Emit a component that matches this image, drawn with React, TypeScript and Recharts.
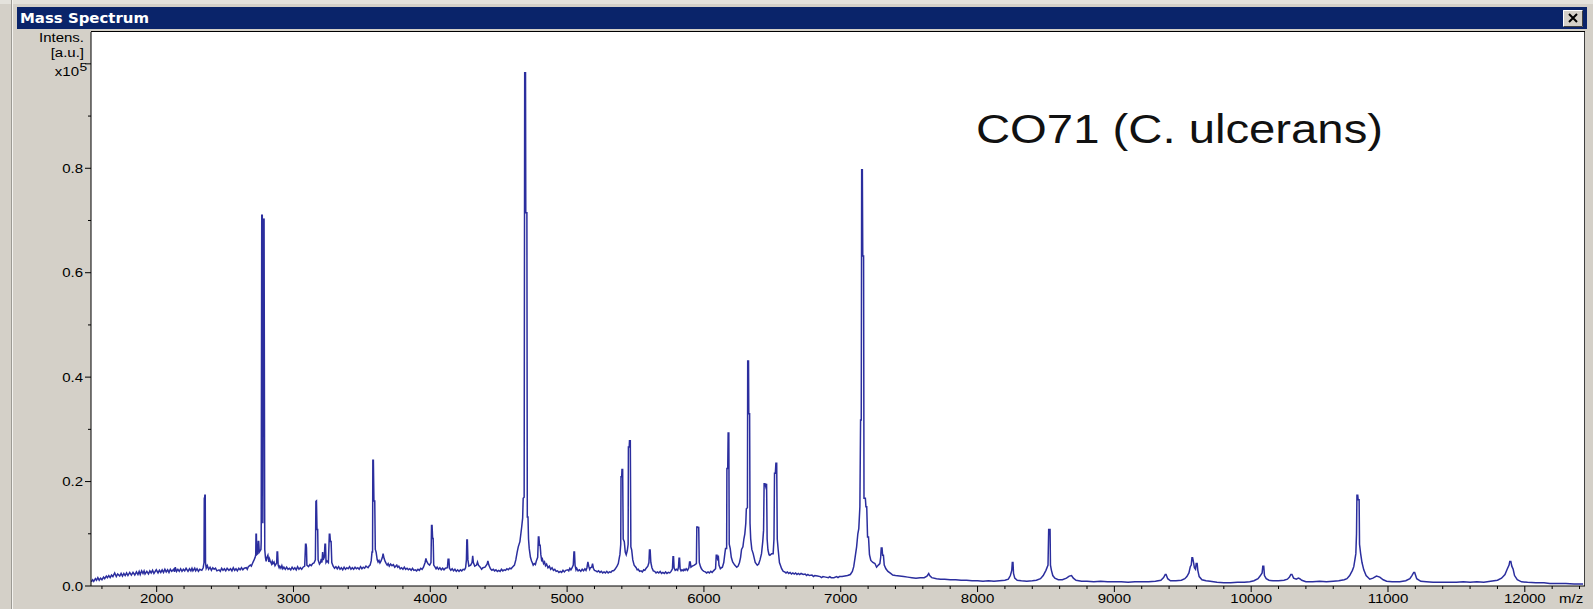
import React from 'react';
import { LineChart, Line, XAxis, YAxis } from 'recharts';

// ---- layout of the window ----
const W = 1593;
const H = 609;
const PLOT_LEFT = 91;
const PLOT_TOP = 32;
const PLOT_RIGHT = 1585;
const PLOT_BOTTOM = 586;

// ---- axes ----
const MZ_RANGE: [number, number] = [1520, 12440];
const INTENSITY_RANGE: [number, number] = [0, 1.061];

const majorMzTicks = [2000, 3000, 4000, 5000, 6000, 7000, 8000, 9000, 10000, 11000, 12000];
const minorMzTicks = [
  1600, 1800, 2200, 2400, 2600, 2800, 3200, 3400, 3600, 3800, 4200, 4400, 4600, 4800,
  5200, 5400, 5600, 5800, 6200, 6400, 6600, 6800, 7200, 7400, 7600, 7800, 8200, 8400,
  8600, 8800, 9200, 9400, 9600, 9800, 10200, 10400, 10600, 10800, 11200, 11400, 11600,
  11800, 12200, 12400,
];
const intensityTicks = [0, 0.1, 0.2, 0.3, 0.4, 0.5, 0.6, 0.7, 0.8, 0.9, 1.0];
const labelledIntensityTicks = [0, 0.2, 0.4, 0.6, 0.8];

// ---- spectrum trace: [m/z, intensity (x10^5 a.u.)] ----
const lowMassTrace: [number, number][] = [
  [1522, 0.008], [1532, 0.012], [1540, 0.009], [1552, 0.014], [1560, 0.011], [1570, 0.016],
  [1580, 0.011], [1590, 0.015], [1600, 0.012], [1612, 0.017], [1620, 0.014], [1632, 0.019],
  [1640, 0.016], [1650, 0.020], [1660, 0.016], [1670, 0.021], [1680, 0.018], [1693, 0.025],
  [1705, 0.018], [1715, 0.023], [1730, 0.019], [1740, 0.024], [1750, 0.019], [1760, 0.024],
  [1770, 0.020], [1780, 0.025], [1790, 0.020], [1803, 0.026], [1815, 0.021], [1827, 0.026],
  [1840, 0.021], [1852, 0.027], [1863, 0.022], [1872, 0.028], [1880, 0.022], [1890, 0.029],
  [1900, 0.024], [1908, 0.029], [1915, 0.023], [1928, 0.028], [1940, 0.023], [1950, 0.029],
  [1960, 0.025], [1970, 0.030], [1980, 0.024], [1997, 0.031], [2010, 0.025], [2020, 0.030],
  [2030, 0.026], [2040, 0.031], [2050, 0.026], [2060, 0.032], [2070, 0.027], [2080, 0.031],
  [2090, 0.026], [2100, 0.032], [2110, 0.028], [2125, 0.032], [2130, 0.027], [2136, 0.036],
  [2145, 0.028], [2155, 0.032], [2165, 0.028], [2175, 0.033], [2185, 0.028], [2195, 0.032],
  [2205, 0.029], [2215, 0.034], [2229, 0.028], [2240, 0.033], [2250, 0.029], [2258, 0.034],
  [2265, 0.029], [2278, 0.034], [2285, 0.029], [2295, 0.033], [2305, 0.028], [2315, 0.032],
  [2330, 0.030], [2340, 0.035], [2346, 0.045], [2348, 0.168], [2351, 0.168], [2352, 0.174],
  [2355, 0.174], [2357, 0.045], [2362, 0.034], [2370, 0.039], [2380, 0.032], [2390, 0.036],
  [2400, 0.030], [2410, 0.035], [2420, 0.032], [2430, 0.034], [2440, 0.029], [2456, 0.031],
  [2465, 0.028], [2475, 0.034], [2485, 0.030], [2495, 0.033], [2505, 0.029], [2515, 0.034],
  [2528, 0.030], [2540, 0.033], [2550, 0.029], [2560, 0.035], [2570, 0.030], [2580, 0.033],
  [2590, 0.029], [2600, 0.034], [2610, 0.031], [2620, 0.035], [2630, 0.031], [2640, 0.034],
  [2655, 0.035], [2662, 0.032], [2670, 0.037], [2685, 0.040], [2692, 0.038], [2700, 0.043],
  [2712, 0.050], [2720, 0.055], [2724, 0.060], [2726, 0.099], [2729, 0.099], [2731, 0.060],
  [2738, 0.062], [2742, 0.085], [2746, 0.085], [2750, 0.065], [2762, 0.070], [2764, 0.085],
  [2768, 0.710], [2772, 0.710], [2776, 0.120], [2780, 0.700], [2785, 0.704], [2790, 0.070],
  [2795, 0.055], [2800, 0.047], [2805, 0.054], [2813, 0.059], [2820, 0.046], [2825, 0.052],
  [2830, 0.048], [2840, 0.042], [2845, 0.047], [2850, 0.043], [2858, 0.046], [2865, 0.039],
  [2877, 0.044], [2880, 0.065], [2884, 0.065], [2888, 0.040], [2895, 0.035], [2900, 0.038],
  [2908, 0.034], [2915, 0.039], [2922, 0.033], [2930, 0.036], [2940, 0.032], [2950, 0.036],
  [2960, 0.032], [2970, 0.034], [2980, 0.031], [2990, 0.036],
];

const lowerMidTrace: [number, number][] = [
  [3000, 0.032], [3010, 0.035], [3020, 0.031], [3030, 0.037], [3040, 0.032], [3050, 0.035],
  [3060, 0.032], [3070, 0.036], [3082, 0.038], [3088, 0.080], [3092, 0.080], [3095, 0.073],
  [3098, 0.040], [3110, 0.037], [3120, 0.041], [3130, 0.039], [3140, 0.043], [3150, 0.044],
  [3160, 0.050], [3164, 0.162], [3168, 0.163], [3172, 0.108], [3177, 0.108], [3180, 0.050],
  [3190, 0.042], [3198, 0.045], [3203, 0.052], [3208, 0.045], [3213, 0.065], [3217, 0.050],
  [3225, 0.055], [3230, 0.080], [3234, 0.080], [3238, 0.045], [3245, 0.048], [3255, 0.045],
  [3262, 0.099], [3266, 0.099], [3270, 0.085], [3275, 0.085], [3280, 0.045], [3290, 0.038],
  [3300, 0.034], [3310, 0.037], [3320, 0.033], [3330, 0.037], [3340, 0.032], [3350, 0.035],
  [3360, 0.031], [3370, 0.036], [3380, 0.032], [3390, 0.035], [3400, 0.033], [3410, 0.037],
  [3420, 0.032], [3430, 0.035], [3440, 0.032], [3450, 0.036], [3460, 0.033], [3470, 0.035],
  [3480, 0.032], [3490, 0.037], [3500, 0.033], [3510, 0.036], [3520, 0.034], [3530, 0.038],
  [3545, 0.035], [3555, 0.039], [3560, 0.040], [3568, 0.048], [3574, 0.065], [3578, 0.065],
  [3580, 0.241], [3584, 0.241], [3588, 0.163], [3594, 0.163], [3598, 0.070], [3604, 0.065],
  [3612, 0.050], [3618, 0.046], [3625, 0.049], [3632, 0.044], [3640, 0.048], [3650, 0.055],
  [3655, 0.062], [3662, 0.053], [3670, 0.047], [3678, 0.043], [3685, 0.040], [3692, 0.043],
  [3700, 0.038], [3710, 0.042], [3720, 0.039], [3730, 0.041], [3740, 0.036], [3755, 0.040],
  [3762, 0.036], [3770, 0.038], [3780, 0.033], [3790, 0.035], [3800, 0.032], [3810, 0.036],
  [3820, 0.032], [3830, 0.034], [3840, 0.031], [3850, 0.033], [3860, 0.030], [3870, 0.034],
  [3880, 0.030], [3890, 0.031], [3900, 0.029], [3910, 0.032], [3920, 0.030], [3930, 0.034],
  [3940, 0.032], [3950, 0.036], [3962, 0.045], [3968, 0.053], [3974, 0.047], [3985, 0.042],
  [3995, 0.040], [4005, 0.045], [4009, 0.116], [4013, 0.116], [4017, 0.091], [4021, 0.091],
  [4025, 0.040], [4035, 0.036], [4042, 0.033], [4050, 0.036], [4060, 0.032], [4070, 0.035],
  [4080, 0.031], [4090, 0.034], [4100, 0.031], [4110, 0.034], [4125, 0.035], [4130, 0.051],
  [4136, 0.051], [4140, 0.034], [4150, 0.030], [4160, 0.033], [4170, 0.029], [4180, 0.032],
  [4190, 0.028], [4200, 0.031], [4210, 0.028], [4220, 0.031], [4230, 0.029], [4240, 0.032],
  [4250, 0.031], [4258, 0.035], [4264, 0.050], [4267, 0.088], [4271, 0.088], [4275, 0.050],
  [4282, 0.038], [4295, 0.040], [4305, 0.045], [4310, 0.058], [4315, 0.045], [4325, 0.038],
  [4338, 0.040], [4345, 0.046], [4352, 0.040], [4365, 0.036], [4375, 0.032], [4385, 0.035],
  [4400, 0.036], [4415, 0.042], [4421, 0.048], [4428, 0.040], [4440, 0.033], [4450, 0.030],
  [4460, 0.032], [4470, 0.029], [4480, 0.031], [4490, 0.028], [4500, 0.030], [4510, 0.028],
  [4520, 0.032], [4530, 0.029], [4540, 0.031], [4550, 0.030], [4560, 0.033], [4570, 0.031],
  [4580, 0.034], [4590, 0.033], [4600, 0.036], [4615, 0.040], [4625, 0.050], [4635, 0.065],
  [4643, 0.075], [4655, 0.085], [4668, 0.113], [4675, 0.130], [4679, 0.168], [4686, 0.170],
  [4690, 0.983], [4696, 0.983], [4698, 0.715], [4706, 0.715], [4709, 0.132], [4714, 0.132],
  [4718, 0.090], [4723, 0.072], [4732, 0.055], [4740, 0.048], [4745, 0.045], [4752, 0.040],
  [4760, 0.043], [4768, 0.041], [4775, 0.048], [4785, 0.055], [4790, 0.094], [4794, 0.094],
  [4798, 0.078], [4803, 0.078], [4808, 0.060], [4815, 0.047], [4820, 0.051], [4828, 0.043],
  [4835, 0.046], [4842, 0.039], [4850, 0.042], [4860, 0.035], [4870, 0.038], [4880, 0.032],
  [4890, 0.035], [4900, 0.030], [4910, 0.032], [4920, 0.028], [4930, 0.029], [4940, 0.026],
  [4950, 0.028], [4960, 0.026], [4970, 0.030], [4980, 0.027], [4990, 0.030],
];

const upperMidTrace: [number, number][] = [
  [5005, 0.031], [5012, 0.029], [5020, 0.034], [5028, 0.031], [5035, 0.034], [5045, 0.040],
  [5050, 0.065], [5054, 0.065], [5058, 0.040], [5065, 0.031], [5070, 0.034], [5080, 0.029],
  [5090, 0.031], [5100, 0.028], [5110, 0.032], [5120, 0.029], [5130, 0.033], [5138, 0.030],
  [5145, 0.035], [5152, 0.046], [5158, 0.038], [5165, 0.032], [5170, 0.035], [5180, 0.036],
  [5186, 0.043], [5192, 0.034], [5200, 0.030], [5210, 0.029], [5220, 0.027], [5230, 0.029],
  [5240, 0.026], [5250, 0.028], [5260, 0.025], [5270, 0.027], [5280, 0.025], [5290, 0.028],
  [5300, 0.025], [5310, 0.027], [5320, 0.026], [5330, 0.029], [5340, 0.029], [5350, 0.032],
  [5365, 0.038], [5374, 0.043], [5382, 0.055], [5386, 0.060], [5392, 0.080], [5394, 0.209],
  [5399, 0.209], [5401, 0.223], [5406, 0.223], [5410, 0.090], [5418, 0.085], [5425, 0.065],
  [5432, 0.060], [5440, 0.068], [5446, 0.080], [5448, 0.266], [5454, 0.266], [5456, 0.278],
  [5462, 0.278], [5466, 0.075], [5472, 0.069], [5480, 0.050], [5490, 0.040], [5505, 0.035],
  [5512, 0.031], [5520, 0.032], [5530, 0.028], [5540, 0.029], [5550, 0.027], [5560, 0.031],
  [5568, 0.030], [5575, 0.033], [5590, 0.038], [5598, 0.045], [5602, 0.069], [5607, 0.069],
  [5612, 0.045], [5620, 0.035], [5630, 0.029], [5640, 0.028], [5650, 0.025], [5660, 0.027],
  [5670, 0.025], [5680, 0.028], [5690, 0.024], [5700, 0.026], [5710, 0.024], [5720, 0.027],
  [5730, 0.024], [5740, 0.026], [5750, 0.025], [5760, 0.028], [5770, 0.033], [5774, 0.056],
  [5778, 0.056], [5782, 0.035], [5790, 0.030], [5800, 0.032], [5808, 0.030], [5814, 0.036],
  [5818, 0.053], [5822, 0.053], [5826, 0.033], [5833, 0.029], [5840, 0.031], [5848, 0.029],
  [5855, 0.032], [5862, 0.030], [5870, 0.033], [5880, 0.030], [5890, 0.035], [5895, 0.046],
  [5900, 0.046], [5905, 0.036], [5915, 0.038], [5930, 0.040], [5945, 0.043], [5948, 0.113],
  [5955, 0.113], [5958, 0.112], [5962, 0.112], [5966, 0.045], [5975, 0.037], [5982, 0.033],
  [5990, 0.030], [6000, 0.028], [6010, 0.027], [6020, 0.025], [6030, 0.027], [6040, 0.025],
  [6050, 0.028], [6060, 0.026], [6070, 0.029], [6085, 0.033], [6090, 0.059], [6096, 0.059],
  [6100, 0.052], [6106, 0.055], [6110, 0.040], [6120, 0.033], [6128, 0.035], [6135, 0.036],
  [6145, 0.045], [6152, 0.060], [6158, 0.072], [6166, 0.072], [6168, 0.225], [6174, 0.225],
  [6177, 0.293], [6182, 0.293], [6185, 0.080], [6192, 0.072], [6200, 0.055], [6210, 0.046],
  [6225, 0.040], [6240, 0.036], [6250, 0.038], [6260, 0.045], [6268, 0.055], [6275, 0.070],
  [6285, 0.075], [6292, 0.090], [6299, 0.100], [6306, 0.120], [6310, 0.148], [6318, 0.150],
  [6320, 0.431], [6326, 0.431], [6328, 0.330], [6334, 0.330], [6337, 0.120], [6342, 0.090],
  [6350, 0.070], [6360, 0.062], [6375, 0.045], [6390, 0.040], [6400, 0.042], [6410, 0.050],
  [6421, 0.062], [6430, 0.085], [6436, 0.107], [6440, 0.196], [6446, 0.196], [6452, 0.190],
  [6458, 0.196], [6462, 0.090], [6468, 0.069], [6476, 0.060], [6482, 0.059], [6495, 0.062],
  [6506, 0.062], [6512, 0.090], [6516, 0.216], [6522, 0.216], [6526, 0.235], [6532, 0.235],
  [6536, 0.090], [6543, 0.069], [6552, 0.045], [6568, 0.033], [6580, 0.028], [6590, 0.027],
  [6600, 0.025], [6610, 0.027], [6620, 0.024], [6630, 0.026], [6640, 0.023], [6650, 0.025],
  [6660, 0.023], [6670, 0.025], [6680, 0.022], [6690, 0.024], [6700, 0.022], [6710, 0.024],
  [6726, 0.022], [6740, 0.023], [6750, 0.020], [6760, 0.022], [6770, 0.020], [6790, 0.021],
  [6800, 0.018], [6810, 0.020], [6830, 0.019], [6850, 0.018], [6860, 0.016], [6870, 0.018],
  [6890, 0.017], [6910, 0.016], [6920, 0.018], [6930, 0.016], [6950, 0.016], [6970, 0.018],
  [6980, 0.016], [6990, 0.018],
];

const highMassTrace: [number, number][] = [
  [7010, 0.018], [7030, 0.019], [7050, 0.020], [7070, 0.022], [7085, 0.028], [7095, 0.037],
  [7105, 0.055], [7116, 0.075], [7125, 0.100], [7132, 0.110], [7140, 0.152], [7145, 0.318],
  [7150, 0.318], [7153, 0.797], [7158, 0.797], [7161, 0.632], [7167, 0.632], [7170, 0.168],
  [7180, 0.168], [7184, 0.152], [7190, 0.152], [7196, 0.094], [7203, 0.094], [7210, 0.060],
  [7220, 0.049], [7235, 0.045], [7250, 0.043], [7262, 0.036], [7275, 0.040], [7286, 0.043],
  [7292, 0.055], [7296, 0.073], [7302, 0.073], [7306, 0.059], [7312, 0.059], [7318, 0.040],
  [7330, 0.033], [7345, 0.028], [7365, 0.024], [7380, 0.021], [7400, 0.020], [7430, 0.019],
  [7460, 0.018], [7490, 0.017], [7520, 0.016], [7550, 0.015], [7580, 0.016], [7610, 0.016],
  [7630, 0.019], [7643, 0.024], [7650, 0.020], [7665, 0.016], [7700, 0.014], [7730, 0.013],
  [7760, 0.013], [7800, 0.012], [7840, 0.012], [7880, 0.011], [7920, 0.011], [7960, 0.010],
  [8000, 0.010], [8040, 0.009], [8080, 0.010], [8120, 0.009], [8160, 0.010], [8200, 0.011],
  [8225, 0.013], [8240, 0.020], [8250, 0.030], [8254, 0.045], [8259, 0.045], [8263, 0.024],
  [8272, 0.015], [8290, 0.011], [8320, 0.010], [8360, 0.009], [8400, 0.010], [8430, 0.011],
  [8460, 0.014], [8480, 0.020], [8500, 0.030], [8515, 0.040], [8520, 0.108], [8530, 0.108],
  [8533, 0.040], [8540, 0.030], [8550, 0.020], [8565, 0.015], [8590, 0.012], [8620, 0.012],
  [8650, 0.015], [8670, 0.019], [8687, 0.020], [8700, 0.015], [8720, 0.011], [8760, 0.009],
  [8800, 0.009], [8850, 0.008], [8900, 0.009], [8950, 0.008], [9000, 0.008], [9050, 0.008],
  [9100, 0.007], [9150, 0.008], [9200, 0.008], [9250, 0.008], [9300, 0.009], [9340, 0.011],
  [9360, 0.016], [9372, 0.022], [9378, 0.022], [9390, 0.014], [9410, 0.010], [9450, 0.010],
  [9490, 0.011], [9515, 0.014], [9530, 0.018], [9545, 0.025], [9555, 0.037], [9562, 0.040],
  [9567, 0.054], [9572, 0.054], [9578, 0.046], [9585, 0.035], [9593, 0.032], [9598, 0.043],
  [9605, 0.043], [9610, 0.030], [9620, 0.018], [9640, 0.012], [9670, 0.010], [9700, 0.009],
  [9750, 0.007], [9800, 0.006], [9850, 0.006], [9900, 0.007], [9950, 0.007], [9990, 0.008],
];

const tailTrace: [number, number][] = [
  [10020, 0.010], [10050, 0.014], [10065, 0.019], [10080, 0.025], [10085, 0.038], [10092, 0.038],
  [10097, 0.020], [10110, 0.014], [10130, 0.011], [10160, 0.010], [10200, 0.010], [10240, 0.011],
  [10265, 0.013], [10280, 0.017], [10290, 0.022], [10298, 0.022], [10310, 0.015], [10330, 0.013],
  [10345, 0.015], [10355, 0.014], [10370, 0.011], [10400, 0.008], [10450, 0.008], [10500, 0.009],
  [10550, 0.008], [10600, 0.009], [10640, 0.010], [10680, 0.012], [10700, 0.014], [10720, 0.020],
  [10740, 0.030], [10750, 0.037], [10758, 0.050], [10765, 0.062], [10770, 0.100], [10773, 0.174],
  [10779, 0.174], [10782, 0.165], [10789, 0.165], [10792, 0.080], [10800, 0.062], [10810, 0.045],
  [10823, 0.031], [10840, 0.020], [10867, 0.013], [10890, 0.015], [10916, 0.019], [10940, 0.017],
  [10965, 0.012], [10990, 0.009], [11030, 0.008], [11086, 0.008], [11130, 0.010], [11160, 0.014],
  [11175, 0.020], [11188, 0.026], [11195, 0.026], [11210, 0.014], [11240, 0.009], [11280, 0.008],
  [11330, 0.007], [11400, 0.007], [11450, 0.007], [11500, 0.007], [11550, 0.008], [11600, 0.007],
  [11650, 0.008], [11700, 0.007], [11750, 0.009], [11800, 0.011], [11830, 0.015], [11855, 0.022],
  [11871, 0.032], [11885, 0.040], [11890, 0.047], [11898, 0.047], [11905, 0.038], [11915, 0.032],
  [11925, 0.020], [11945, 0.012], [11976, 0.008], [12020, 0.007], [12080, 0.006], [12140, 0.006],
  [12183, 0.005], [12240, 0.005], [12300, 0.005], [12360, 0.004], [12426, 0.004],
];

const spectrum = [...lowMassTrace, ...lowerMidTrace, ...upperMidTrace, ...highMassTrace, ...tailTrace].map(
  ([mz, intensity]) => ({ mz, intensity })
);

// ---- styles ----
const FACE = '#d4d0c8';
const TITLE_BLUE = '#0a246a';
const TRACE_BLUE = '#2b2e9e';
const UI_FONT = '"Liberation Sans", Arial, sans-serif';
const TEXT_STRETCH = 1.25;

// Horizontally widened text, as drawn by the instrument software
const WideText = ({ x, y, anchor, size, children }: any) => (
  <g transform={`translate(${x},${y}) scale(${TEXT_STRETCH},1)`}>
    <text x={0} y={0} textAnchor={anchor} fontFamily={UI_FONT} fontSize={size} fill="#000">
      {children}
    </text>
  </g>
);

const MzTick = (props: any) => {
  const { x, y, payload } = props;
  const isMajor = majorMzTicks.includes(payload.value);
  return (
    <g>
      <line x1={x} x2={x} y1={y} y2={y + (isMajor ? 6 : 3)} stroke="#000" strokeWidth={1} />
      {isMajor && (
        <WideText x={x} y={y + 17} anchor="middle" size={12}>
          {payload.value}
        </WideText>
      )}
    </g>
  );
};

const IntensityTick = (props: any) => {
  const { x, y, payload } = props;
  const v = Math.round(payload.value * 10) / 10;
  const labelled = labelledIntensityTicks.includes(v);
  const isMajor = labelled || v === 1;
  return (
    <g>
      <line x1={x - (isMajor ? 6 : 3)} x2={x} y1={y} y2={y} stroke="#000" strokeWidth={1} />
      {labelled && (
        <WideText x={x - 8} y={y + 4.5} anchor="end" size={12}>
          {v.toFixed(1)}
        </WideText>
      )}
    </g>
  );
};

const WindowChrome = () => (
  <svg width={W} height={H} style={{ position: 'absolute', left: 0, top: 0 }}>
    <rect x={0} y={0} width={W} height={H} fill={FACE} />
    <rect x={0} y={0} width={W} height={4} fill="#e4e2dc" />
    <line x1={11.5} x2={11.5} y1={0} y2={H} stroke="#9c9a94" />
    <line x1={12.5} x2={12.5} y1={0} y2={H} stroke="#f4f3ef" />

    {/* title bar */}
    <rect x={17} y={7} width={1570} height={22} fill={TITLE_BLUE} />
    <text
      x={20}
      y={23}
      fontFamily='"DejaVu Sans", sans-serif'
      fontWeight="bold"
      fontSize={13.5}
      fill="#fff"
      textLength={129}
      lengthAdjust="spacingAndGlyphs"
    >
      Mass Spectrum
    </text>

    {/* close button */}
    <rect x={1563} y={10} width={20} height={17} fill={FACE} />
    <path d="M1563.5 26.5 V10.5 H1582.5" fill="none" stroke="#fff" />
    <path d="M1563.5 26.5 H1582.5 V10.5" fill="none" stroke="#404040" />
    <path d="M1569 14 L1577 22 M1577 14 L1569 22" stroke="#000" strokeWidth={2} />

    {/* plot area */}
    <rect x={PLOT_LEFT} y={PLOT_TOP} width={PLOT_RIGHT - PLOT_LEFT} height={PLOT_BOTTOM - PLOT_TOP} fill="#fff" />
    <line x1={PLOT_LEFT} x2={PLOT_RIGHT} y1={PLOT_TOP - 0.5} y2={PLOT_TOP - 0.5} stroke="#000" />
    <line x1={PLOT_RIGHT - 0.5} x2={PLOT_RIGHT - 0.5} y1={PLOT_TOP} y2={PLOT_BOTTOM} stroke="#404040" />

    {/* intensity axis title */}
    <WideText x={84} y={42} anchor="end" size={12}>Intens.</WideText>
    <WideText x={84} y={57} anchor="end" size={12}>[a.u.]</WideText>
    <WideText x={79} y={76} anchor="end" size={12}>x10</WideText>
    <WideText x={79.5} y={71} anchor="start" size={11}>5</WideText>

    {/* m/z axis title */}
    <WideText x={1559} y={603} anchor="start" size={12}>m/z</WideText>

    {/* sample annotation */}
    <text
      x={976}
      y={142.5}
      fontFamily={UI_FONT}
      fontSize={40}
      fill="#111"
      textLength={407}
      lengthAdjust="spacingAndGlyphs"
    >
      CO71 (C. ulcerans)
    </text>
  </svg>
);

export default function App() {
  return (
    <div style={{ position: 'absolute', left: 0, top: 0, width: W, height: H, overflow: 'hidden' }}>
      <WindowChrome />
      <div style={{ position: 'absolute', left: 0, top: 0 }}>
        <LineChart
          width={W}
          height={H}
          data={spectrum}
          margin={{ top: PLOT_TOP, right: W - PLOT_RIGHT, bottom: 0, left: 0 }}
        >
          <XAxis
            type="number"
            dataKey="mz"
            domain={MZ_RANGE}
            ticks={[...minorMzTicks, ...majorMzTicks].sort((a, b) => a - b)}
            interval={0}
            allowDataOverflow
            height={H - PLOT_BOTTOM}
            tickSize={0}
            tickMargin={0}
            tickLine={false}
            axisLine={{ stroke: '#000', strokeWidth: 1 }}
            tick={<MzTick />}
          />
          <YAxis
            type="number"
            domain={INTENSITY_RANGE}
            ticks={intensityTicks}
            interval={0}
            allowDataOverflow
            width={PLOT_LEFT}
            tickSize={0}
            tickMargin={0}
            tickLine={false}
            axisLine={{ stroke: '#000', strokeWidth: 1 }}
            tick={<IntensityTick />}
          />
          <Line
            type="linear"
            dataKey="intensity"
            stroke={TRACE_BLUE}
            strokeWidth={1.5}
            dot={false}
            isAnimationActive={false}
          />
        </LineChart>
      </div>
    </div>
  );
}
